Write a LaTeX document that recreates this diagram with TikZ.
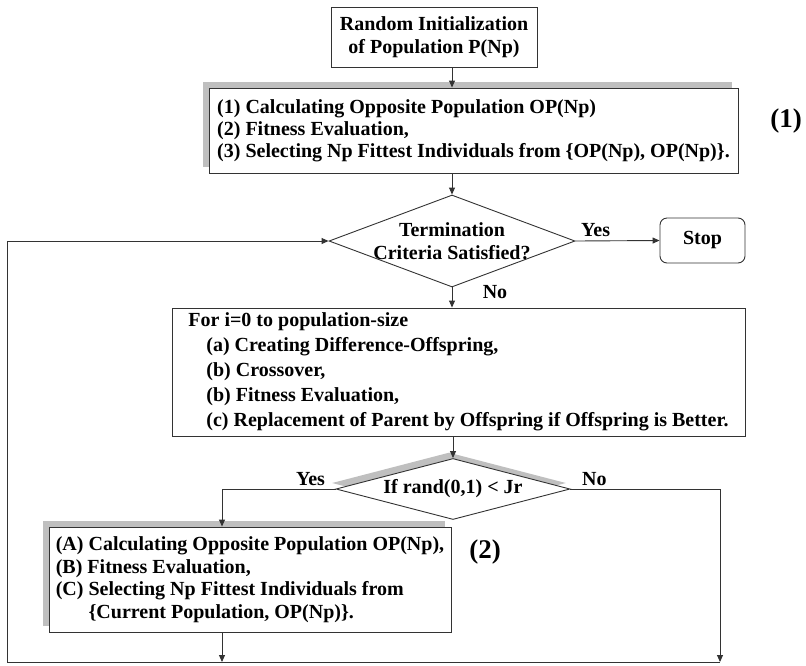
\documentclass[tikz,border=0pt]{standalone}
\usepackage{fontspec}
\setmainfont{Liberation Serif}
\usepackage{tikz}
\usetikzlibrary{shapes.geometric}
\usetikzlibrary{positioning}
\usetikzlibrary{shadows}
\usetikzlibrary{arrows.meta}

\begin{document}
\begin{tikzpicture}[x=1pt, y=-1pt, >={Triangle[length=7pt,width=6pt]},
   font=\fontsize{20}{23}\selectfont\bfseries,
   box/.style={draw=black!80, line width=0.9pt, fill=white, inner sep=0pt},
   shade/.style={drop shadow={shadow xshift=-6pt, shadow yshift=6pt, fill=black!25, opacity=1}},
   decision/.style={diamond, draw=black!80, line width=0.9pt, fill=white, inner sep=0pt},
   flow/.style={->, draw=black!80, line width=0.9pt},
   tag/.style={font=\fontsize{27}{30}\selectfont\bfseries}]
   \useasboundingbox (0,0) rectangle (806,665);
   \node[box, minimum width=206pt, minimum height=60pt, align=center] (init) at (434,37) {Random Initialization\\of Population P(Np)};
   \node[box, shade, minimum width=529pt, minimum height=85pt, align=left,
      font=\fontsize{20}{22}\selectfont\bfseries] (opp) at (473.5,130.5)
      {(1) Calculating Opposite Population OP(Np)\\(2) Fitness Evaluation,\\(3) Selecting Np Fittest Individuals from \{OP(Np), OP(Np)\}.};
   \node[tag] (tag1) at (786,121) {(1)};
   \node[decision, minimum width=246pt, minimum height=92pt,
      label={[align=center]center:Termination\\Criteria Satisfied?}] (term) at (452,241) {};
   \node[box, rounded corners=7pt, minimum width=85pt, minimum height=45pt] (stop) at (702.5,240.5) {Stop};
   \node[box, minimum width=573pt, minimum height=128pt, align=left,
      font=\fontsize{20}{25}\selectfont\bfseries] (gen) at (458.5,372)
      {For i=0 to population-size\\
      \hspace*{18pt}(a) Creating Difference-Offspring,\\
      \hspace*{18pt}(b) Crossover,\\
      \hspace*{18pt}(b) Fitness Evaluation,\\
      \hspace*{18pt}(c) Replacement of Parent by Offspring if Offspring is Better.};
   \node[decision, minimum width=234pt, minimum height=61pt,
      drop shadow={shadow xshift=-4pt, shadow yshift=6pt, fill=black!25, opacity=1},
      label={center:If rand(0,1) < Jr}] (jump) at (453,489) {};
   \node[box, shade, minimum width=402pt, minimum height=105pt, align=left,
      font=\fontsize{20}{22.5}\selectfont\bfseries] (gjump) at (250,579.5)
      {(A) Calculating Opposite Population OP(Np),\\
      (B) Fitness Evaluation,\\
      (C) Selecting Np Fittest Individuals from\\
      \phantom{(C) }\{Current Population, OP(Np)\}.};
   \node[tag] (tag2) at (485,552) {(2)};
   \coordinate (botR) at (720,662);
   \coordinate (botL) at (7,662);

   \draw[flow] (init.south -| term.north) -- (opp.north -| term.north);
   \draw[flow] (opp.south -| term.north) -- (term.north);
   \draw[flow] (term.east) -- node[above, pos=0.24] {Yes} (stop.west);
   \draw[flow] (term.south) -- node[pos=0.25, right=27pt] {No} (term.south |- gen.north);
   \draw[flow] (jump.north |- gen.south) -- (jump.north);
   \draw[flow] (jump.west) -| node[above, pos=0.11] {Yes} ([xshift=-28pt]gjump.north);
   \draw[flow] (jump.east) -| node[above, pos=0.08] {No} (botR);
   \draw[flow] ([xshift=-28pt]gjump.south) -- ([xshift=-28pt]gjump.south |- botL);
   \draw[flow] (botR) -- (botL) -- (botL |- term.west) -- (term.west);
\end{tikzpicture}
\end{document}
